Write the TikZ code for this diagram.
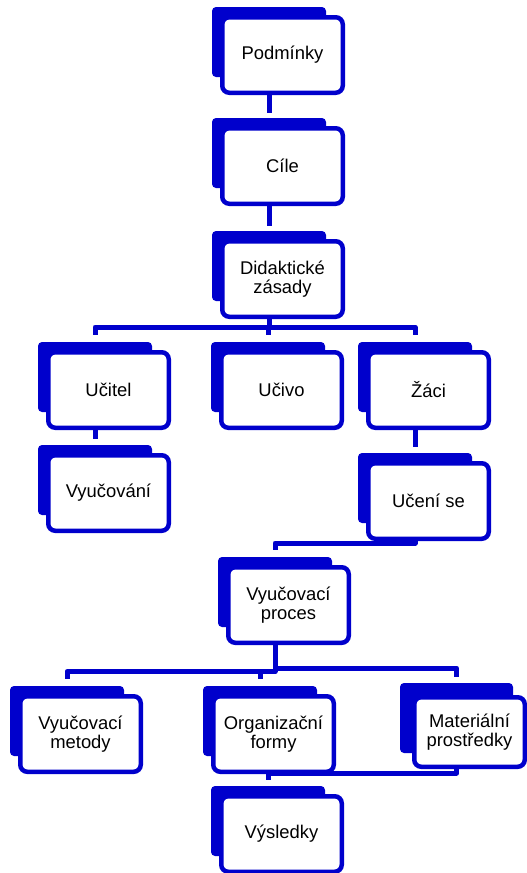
\documentclass[tikz,border=0pt]{standalone}
\usepackage{fontspec}
\setmainfont{Liberation Sans}
\usetikzlibrary{backgrounds,calc}
\definecolor{bl}{RGB}{0,0,204}
\begin{document}
\begin{tikzpicture}[x=1pt,y=-1pt,
  shad/.style={fill=bl, draw=none, rounded corners=4pt, minimum width=114pt, minimum height=70pt, inner sep=0pt},
  wbox/.style={draw=bl, fill=white, line width=4.5pt, rounded corners=7pt, minimum width=120.5pt, minimum height=75.5pt, inner sep=0pt, align=center, font=\fontsize{18.4}{19}\selectfont},
  conn/.style={draw=bl, line width=5pt, line join=round}]
\useasboundingbox (0,0) rectangle (527,873);
% boxes: shadow centre = (x0+57,y0+35), white centre = (x0+70.5,y0+48)
\node[shad] (P-s) at (212+57,7+35) {};
\node[wbox] (P) at (212+70.5,7+48) {Podmínky};
\node[shad] (C-s) at (212+57,118+35) {};
\node[wbox] (C) at (212+70.5,118+48) {Cíle};
\node[shad] (D-s) at (212+57,231+35) {};
\node[wbox] (D) at (212+70.5,231+48) {Didaktické\\zásady};
\node[shad] (U-s) at (38+57,342+35) {};
\node[wbox] (U) at (38+70.5,342+48) {Učitel};
\node[shad] (Uv-s) at (211+57,342+35) {};
\node[wbox] (Uv) at (211+70.5,342+48) {Učivo};
\node[shad] (Z-s) at (358+57,342+35) {};
\node[wbox] (Z) at (358+70.5,342+48) {Žáci};
\node[shad] (V-s) at (38+57,445+35) {};
\node[wbox] (V) at (38+70.5,445+48) {Vyučování};
\node[shad] (Us-s) at (358+57,453+35) {};
\node[wbox] (Us) at (358+70.5,453+48) {Učení se};
\node[shad] (VP-s) at (218+57,557+35) {};
\node[wbox] (VP) at (218+70.5,557+48) {Vyučovací\\proces};
\node[shad] (M-s) at (10+57,686+35) {};
\node[wbox] (M) at (10+70.5,686+48) {Vyučovací\\metody};
\node[shad] (O-s) at (203+57,686+35) {};
\node[wbox] (O) at (203+70.5,686+48) {Organizační\\formy};
\node[shad, minimum width=113pt] (MP-s) at (400+56.5,683+35) {};
\node[wbox, minimum width=110.5pt, minimum height=69.5pt] (MP) at (469.5,732) {Materiální\\prostředky};
\node[shad] (Vy-s) at (211+57,786+35) {};
\node[wbox] (Vy) at (211+70.5,786+48) {Výsledky};
% connectors
\coordinate (lev1) at (0,327);
\coordinate (lev2) at (0,543);
\coordinate (lev3l) at (0,671.5);
\coordinate (lev3r) at (0,668);
\coordinate (lev4) at (0,773);
\begin{scope}[on background layer]
\draw[conn] (P-s.center |- P.south) -- ([yshift=5pt]C-s.north);
\draw[conn] (C-s.center |- C.south) -- ([yshift=5pt]D-s.north);
\draw[conn] (D-s.center |- D.south) -- (D-s.center |- lev1);
\draw[conn] ([yshift=7pt]U-s.north) |- (Z-s.north |- lev1) -- ([yshift=7pt]Z-s.north);
\draw[conn] (Uv-s.north |- lev1) -- ([yshift=7pt]Uv-s.north);
\draw[conn] (U-s.center |- U.south) -- ([yshift=6pt]V-s.north);
\draw[conn] (Z-s.center |- Z.south) -- ([yshift=6pt]Us-s.north);
\draw[conn] (Us-s.center) -- (Us-s.center |- lev2) -| ([yshift=7pt]VP-s.north);
\draw[conn] (VP-s.center |- VP.south) -- (VP-s.center |- lev3l) -| ([yshift=7pt]M-s.north);
\draw[conn] (VP-s.center |- lev3l) -- (VP-s.center |- lev3r) -| ([yshift=6pt]MP-s.north);
\draw[conn] (O-s.north |- lev3l) -- ([yshift=7pt]O-s.north);
\draw[conn] (MP-s.center) -- (MP-s.center |- lev4) -| ([yshift=6pt]Vy-s.north);
\end{scope}
\end{tikzpicture}
\end{document}
